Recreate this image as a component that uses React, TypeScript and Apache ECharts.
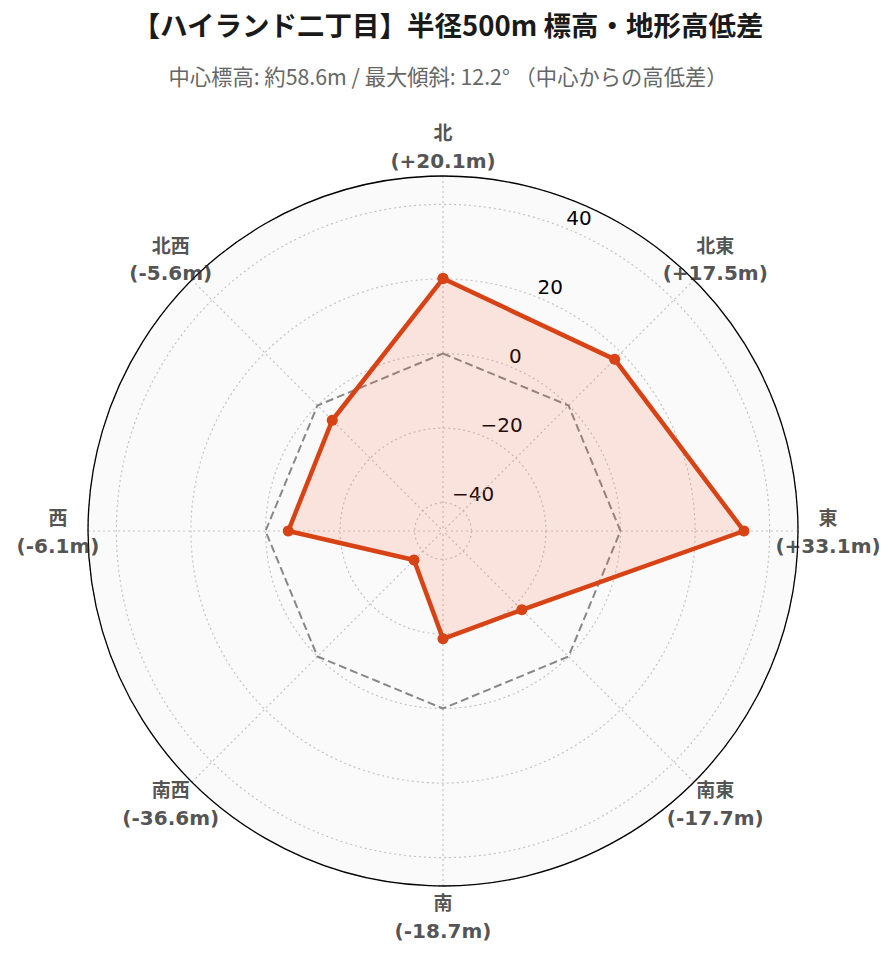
import React, { useEffect, useRef } from 'react';
import * as echarts from 'echarts';

const directions = ['北', '北東', '東', '南東', '南', '南西', '西', '北西'];
const diffs = [20.1, 17.5, 33.1, -17.7, -18.7, -36.6, -6.1, -5.6];
const bearings = [0, 45, 90, 135, 180, 225, 270, 315];
const zeroRef = [0, 0, 0, 0, 0, 0, 0, 0];
const radiusMin = -47.6;
const radiusMax = 47.6;
const titleText = '【ハイランド二丁目】半径500m 標高・地形高低差';
const subtitleText = '中心標高: 約58.6m / 最大傾斜: 12.2° （中心からの高低差）';

export default function App() {
  const ref = useRef<HTMLDivElement>(null);
  useEffect(() => {
    const chart = echarts.init(ref.current!, null, { renderer: 'svg' });
    const closed = (vals: number[]) => [
      ...vals.map((v, i) => [v, bearings[i]]),
      [vals[0], 360],
    ];
    const fmtDiff = (v: number) => `(${v >= 0 ? '+' : ''}${v.toFixed(1)}m)`;
    const fmtTick = (v: number) => (v < 0 ? '\u2212' + Math.abs(v) : String(v));
    const center = [443, 531];
    const gridLine = { color: '#c4c4c4', type: [2, 3] as any, width: 1.2 };

    chart.setOption({
      animation: false,
      title: [
        {
          text: titleText,
          left: 'center',
          top: 5,
          textStyle: { fontSize: 27.5, fontWeight: 'bold', color: '#1a1a1a', fontFamily: 'Noto Sans CJK JP' },
        },
        {
          text: subtitleText,
          left: 'center',
          top: 60,
          textStyle: { fontSize: 21.3, fontWeight: 'normal', color: '#666', fontFamily: 'Noto Sans CJK JP' },
        },
      ],
      polar: [
        { center, radius: 355 },
        { center, radius: 355 },
        { center, radius: 385 },
      ],
      angleAxis: [
        {
          polarIndex: 0,
          type: 'value',
          min: 0,
          max: 360,
          interval: 45,
          startAngle: 90,
          clockwise: true,
          z: 2,
          axisLine: { show: true, lineStyle: { color: '#000', width: 1.3 } },
          axisTick: { show: false },
          axisLabel: { show: false },
          splitLine: { show: true, lineStyle: gridLine },
        },
        { polarIndex: 1, type: 'value', min: 0, max: 360, startAngle: 67.5, show: false },
        { polarIndex: 2, type: 'value', min: 0, max: 360, startAngle: 90, clockwise: true, show: false },
      ],
      radiusAxis: [
        {
          polarIndex: 0,
          type: 'value',
          min: radiusMin,
          max: radiusMax,
          splitNumber: 5,
          z: 2,
          axisLine: { show: false },
          axisTick: { show: false },
          axisLabel: { show: false },
          splitLine: { show: true, lineStyle: gridLine },
          splitArea: { show: false },
        },
        {
          polarIndex: 1,
          type: 'value',
          min: radiusMin,
          max: radiusMax,
          splitNumber: 5,
          z: 0,
          axisLine: { show: false },
          axisTick: { show: false },
          splitLine: { show: false },
          splitArea: { show: true, areaStyle: { color: ['#fafafa'] } },
          axisLabel: {
            show: true,
            showMinLabel: false,
            showMaxLabel: false,
            formatter: fmtTick,
            color: '#000',
            fontSize: 20,
            fontFamily: 'DejaVu Sans',
            align: 'left',
            verticalAlign: 'bottom',
            margin: 2,
          },
        },
        { polarIndex: 2, type: 'value', min: 0, max: 1, show: false },
      ],
      series: [
        {
          type: 'line',
          coordinateSystem: 'polar',
          polarIndex: 0,
          data: closed(zeroRef),
          symbol: 'none',
          silent: true,
          lineStyle: { color: '#888', width: 2, type: [8, 4] },
          z: 3,
        },
        {
          type: 'line',
          coordinateSystem: 'polar',
          polarIndex: 0,
          data: closed(diffs),
          symbol: 'circle',
          symbolSize: 11,
          itemStyle: { color: '#d84315' },
          lineStyle: { color: '#d84315', width: 4.5 },
          areaStyle: { color: 'rgba(255,90,50,0.2)', origin: 'start' },
          z: 4,
        },
        {
          type: 'scatter',
          coordinateSystem: 'polar',
          polarIndex: 2,
          data: bearings.map((b) => [1, b]),
          symbolSize: 0,
          clip: false,
          silent: true,
          label: {
            show: true,
            position: 'inside',
            formatter: (p: any) => `{d|${directions[p.dataIndex]}}\n{v|${fmtDiff(diffs[p.dataIndex])}}`,
            rich: {
              d: {
                fontSize: 19,
                fontWeight: 'bold',
                color: '#262626',
                fontFamily: 'Noto Sans CJK JP',
                lineHeight: 29,
                align: 'center',
              },
              v: {
                fontSize: 20,
                fontWeight: 'bold',
                color: '#262626',
                fontFamily: 'DejaVu Sans',
                lineHeight: 29,
                align: 'center',
              },
            },
          },
          z: 5,
        },
      ],
    });
    return () => chart.dispose();
  }, []);
  return (
    <div
      ref={ref}
      style={{ position: 'absolute', left: 0, top: 0, width: 896, height: 962 }}
    />
  );
}
